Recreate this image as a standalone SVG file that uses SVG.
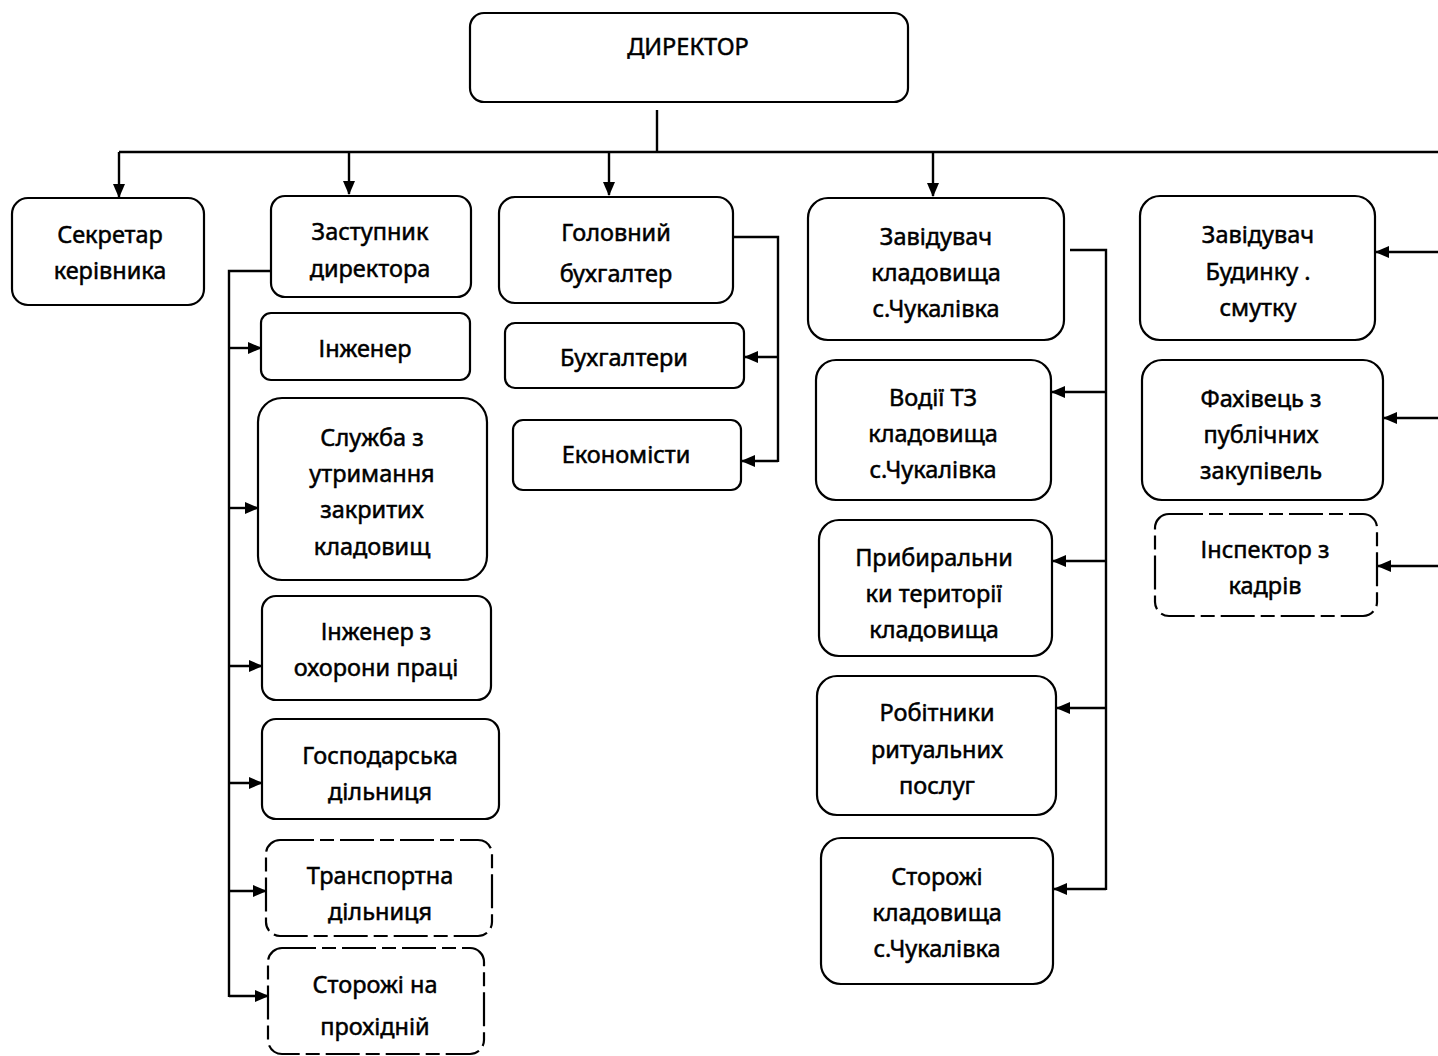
<svg xmlns="http://www.w3.org/2000/svg" width="1438" height="1056" viewBox="0 0 1438 1056">
<style>
.box{fill:#fff;stroke:#000;stroke-width:2.2}
.dash{stroke-dasharray:34 6 14 6}
.t{font-family:"Noto Sans","Open Sans","DejaVu Sans",sans-serif;font-size:23.5px;fill:#000;text-anchor:middle;dominant-baseline:central;stroke:#000;stroke-width:0.5}
.c{fill:none;stroke:#000;stroke-width:2.4}
.a{fill:none;stroke:#000;stroke-width:2.4;marker-end:url(#ah)}
</style>
<defs>
<marker id="ah" markerWidth="14" markerHeight="12" refX="13" refY="6" orient="auto" markerUnits="userSpaceOnUse">
<path d="M0,0 L14,6 L0,12 Z" fill="#000"/>
</marker>
</defs>
<rect width="1438" height="1056" fill="#fff"/>
<g id="connectors">
<path class="c" d="M657,110 V152"/>
<path class="c" d="M119,152 H1438"/>
<path class="a" d="M119,152 V197"/>
<path class="a" d="M349,152 V194"/>
<path class="a" d="M609,152 V195"/>
<path class="a" d="M933,152 V196"/>
<path class="a" d="M1438,252 H1376"/>
<path class="a" d="M1438,418 H1384"/>
<path class="a" d="M1438,566 H1378"/>
<path class="c" d="M271,271 H229 V997"/>
<path class="a" d="M229,348 H261"/>
<path class="a" d="M229,508 H258"/>
<path class="a" d="M229,666 H262"/>
<path class="a" d="M229,783 H262"/>
<path class="a" d="M229,891 H266"/>
<path class="a" d="M229,996 H268"/>
<path class="c" d="M733,237 H778 V462"/>
<path class="a" d="M778,357 H745"/>
<path class="a" d="M778,461 H742"/>
<path class="c" d="M1070,250 H1106 V890"/>
<path class="a" d="M1106,392 H1052"/>
<path class="a" d="M1106,561 H1053"/>
<path class="a" d="M1106,708 H1057"/>
<path class="a" d="M1106,889 H1054"/>
</g>
<g id="n-director"><rect class="box" x="470" y="13" width="438" height="89" rx="14"/><text class="t" x="688" y="46">ДИРЕКТОР</text></g>
<g id="n-secretary"><rect class="box" x="12" y="198" width="192" height="107" rx="16"/><text class="t" x="110" y="234">Секретар</text><text class="t" x="110" y="270">керівника</text></g>
<g id="n-deputy"><rect class="box" x="271" y="196" width="200" height="101" rx="14"/><text class="t" x="370" y="231">Заступник</text><text class="t" x="370" y="268">директора</text></g>
<g id="n-chief-acc"><rect class="box" x="499" y="197" width="234" height="106" rx="16"/><text class="t" x="616" y="232">Головний</text><text class="t" x="616" y="273">бухгалтер</text></g>
<g id="n-head-cem"><rect class="box" x="808" y="198" width="256" height="142" rx="20"/><text class="t" x="936" y="236">Завідувач</text><text class="t" x="936" y="272">кладовища</text><text class="t" x="936" y="308">с.Чукалівка</text></g>
<g id="n-head-house"><rect class="box" x="1140" y="196" width="235" height="144" rx="20"/><text class="t" x="1258" y="234">Завідувач</text><text class="t" x="1258" y="271">Будинку .</text><text class="t" x="1258" y="307">смутку</text></g>
<g id="n-engineer"><rect class="box" x="261" y="313" width="209" height="67" rx="10"/><text class="t" x="365" y="348">Інженер</text></g>
<g id="n-service"><rect class="box" x="258" y="398" width="229" height="182" rx="24"/><text class="t" x="372" y="437">Служба з</text><text class="t" x="372" y="473">утримання</text><text class="t" x="372" y="509">закритих</text><text class="t" x="372" y="546">кладовищ</text></g>
<g id="n-safety"><rect class="box" x="262" y="596" width="229" height="104" rx="14"/><text class="t" x="376" y="631">Інженер з</text><text class="t" x="376" y="667">охорони праці</text></g>
<g id="n-household"><rect class="box" x="262" y="719" width="237" height="100" rx="14"/><text class="t" x="380" y="755">Господарська</text><text class="t" x="380" y="791">дільниця</text></g>
<g id="n-transport"><rect class="box dash" x="266" y="840" width="226" height="96" rx="14"/><text class="t" x="380" y="875">Транспортна</text><text class="t" x="380" y="911">дільниця</text></g>
<g id="n-guards-gate"><rect class="box dash" x="268" y="948" width="216" height="106" rx="14"/><text class="t" x="375" y="984">Сторожі на</text><text class="t" x="375" y="1026">прохідній</text></g>
<g id="n-accountants"><rect class="box" x="505" y="323" width="239" height="65" rx="10"/><text class="t" x="624" y="357">Бухгалтери</text></g>
<g id="n-economists"><rect class="box" x="513" y="420" width="228" height="70" rx="10"/><text class="t" x="626" y="454">Економісти</text></g>
<g id="n-drivers"><rect class="box" x="816" y="360" width="235" height="140" rx="20"/><text class="t" x="933" y="397">Водії  ТЗ</text><text class="t" x="933" y="433">кладовища</text><text class="t" x="933" y="469">с.Чукалівка</text></g>
<g id="n-cleaners"><rect class="box" x="819" y="520" width="233" height="136" rx="20"/><text class="t" x="934" y="557">Прибиральни</text><text class="t" x="934" y="593">ки території</text><text class="t" x="934" y="629">кладовища</text></g>
<g id="n-workers"><rect class="box" x="817" y="676" width="239" height="139" rx="20"/><text class="t" x="937" y="712">Робітники</text><text class="t" x="937" y="749">ритуальних</text><text class="t" x="937" y="785">послуг</text></g>
<g id="n-guards-cem"><rect class="box" x="821" y="838" width="232" height="146" rx="20"/><text class="t" x="937" y="876">Сторожі</text><text class="t" x="937" y="912">кладовища</text><text class="t" x="937" y="948">с.Чукалівка</text></g>
<g id="n-procurement"><rect class="box" x="1142" y="360" width="241" height="140" rx="20"/><text class="t" x="1261" y="398">Фахівець з</text><text class="t" x="1261" y="434">публічних</text><text class="t" x="1261" y="470">закупівель</text></g>
<g id="n-hr"><rect class="box dash" x="1155" y="514" width="222" height="102" rx="14"/><text class="t" x="1265" y="549">Інспектор з</text><text class="t" x="1265" y="585">кадрів</text></g>
</svg>
